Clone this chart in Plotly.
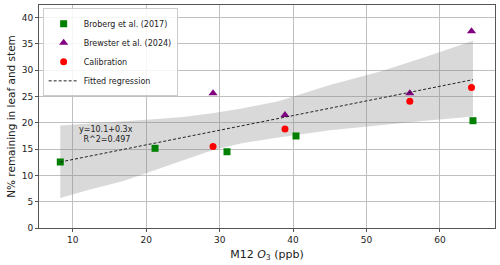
import plotly.graph_objects as go

# Data
broberg_x = [8.3, 21.2, 31.0, 40.4, 64.5]
broberg_y = [12.55, 15.15, 14.5, 17.5, 20.4]
brewster_x = [29.1, 38.9, 55.9, 64.3]
brewster_y = [25.6, 21.5, 25.6, 37.4]
calib_x = [29.1, 38.9, 55.9, 64.3]
calib_y = [15.5, 18.8, 24.1, 26.7]
reg_x = [8.3, 64.5]
reg_y = [12.55, 28.2]
band_x = [8.3, 12, 17, 21, 25, 29, 33, 38, 45, 52, 58, 64.5]
band_lo = [5.7, 7.2, 9.0, 10.9, 12.9, 14.8, 16.1, 17.2, 18.6, 19.6, 20.4, 21.2]
band_hi = [19.5, 19.8, 20.3, 20.7, 21.1, 21.8, 22.7, 24.1, 27.2, 29.8, 32.5, 35.6]
x_ticks = [10, 20, 30, 40, 50, 60]
y_ticks = [0, 5, 10, 15, 20, 25, 30, 35, 40]

fig = go.Figure()
fig.add_trace(go.Scatter(x=band_x + band_x[::-1], y=band_hi + band_lo[::-1],
                         fill="toself", fillcolor="rgba(128,128,128,0.3)",
                         line=dict(width=0), mode="lines", showlegend=False,
                         hoverinfo="skip"))
fig.add_trace(go.Scatter(x=broberg_x, y=broberg_y, mode="markers", name="Broberg et al. (2017)",
                         marker=dict(symbol="square", color="green", size=7)))
fig.add_trace(go.Scatter(x=brewster_x, y=brewster_y, mode="markers", name="Brewster et al. (2024)",
                         marker=dict(symbol="triangle-up", color="purple", size=8)))
fig.add_trace(go.Scatter(x=calib_x, y=calib_y, mode="markers", name="Calibration",
                         marker=dict(symbol="circle", color="red", size=7)))
fig.add_trace(go.Scatter(x=reg_x, y=reg_y, mode="lines", name="Fitted regression",
                         line=dict(color="#222222", width=1, dash="3px,2px")))

fig.add_annotation(x=14.5, y=17.7, xref="x", yref="y",
                   text="y=10.1+0.3x<br> R^2=0.497", showarrow=False,
                   font=dict(size=8, color="#222", family="DejaVu Sans"), align="center")

axis_common = dict(showgrid=True, gridcolor="#c0c0c0", gridwidth=1, showline=True,
                   linecolor="#555", linewidth=1, mirror=True, ticks="outside",
                   ticklen=3, tickcolor="#555", zeroline=False,
                   tickfont=dict(size=9, color="#222", family="DejaVu Sans"))
fig.update_xaxes(range=[5.4, 67.5], tickvals=x_ticks,
                 title=dict(text="M12 <i>O</i><sub>3</sub> (ppb)", font=dict(size=11, color="#222", family="DejaVu Sans"), standoff=6),
                 **axis_common)
fig.update_yaxes(range=[0, 42.4], tickvals=y_ticks,
                 title=dict(text="N% remaining in leaf and stem", font=dict(size=10.5, color="#222", family="DejaVu Sans"), standoff=4),
                 **axis_common)

fig.update_layout(width=500, height=265, margin=dict(l=39, r=5, t=5, b=37),
                  plot_bgcolor="white", paper_bgcolor="white",
                  font=dict(family="DejaVu Sans"),
                  legend=dict(x=0.008, y=0.985, xanchor="left", yanchor="top",
                              bgcolor="rgba(255,255,255,0.85)", bordercolor="#ccc", borderwidth=1,
                              font=dict(size=8, color="#222"), tracegroupgap=0,
                              itemwidth=30))

fig.write_html("out.html", config={"displayModeBar": False},
               post_script="document.body.style.margin='0';document.body.style.overflow='hidden';")
